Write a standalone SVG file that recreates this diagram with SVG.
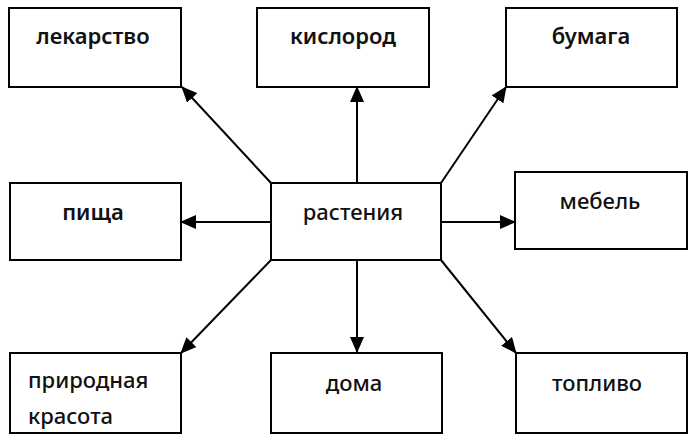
<svg xmlns="http://www.w3.org/2000/svg" width="700" height="441" viewBox="0 0 700 441">
<style>
rect{fill:#fff;stroke:#000;stroke-width:2}
text{font-family:"Noto Sans","Open Sans",sans-serif;font-weight:600;font-size:22px;fill:#111}
.r{font-weight:500}
.c{text-anchor:middle}
line{stroke:#000;stroke-width:2}
</style>
<defs>
<marker id="ah" markerUnits="userSpaceOnUse" markerWidth="16" markerHeight="14" viewBox="0 0 16 14" refX="15" refY="7" orient="auto">
<path d="M0,0 L16,7 L0,14 Z" fill="#000"/>
</marker>
</defs>
<rect width="700" height="441" style="stroke:none"/>
<g id="connectors">
<line x1="271" y1="183" x2="182" y2="87" marker-end="url(#ah)"/>
<line x1="357" y1="183" x2="357" y2="87" marker-end="url(#ah)"/>
<line x1="441" y1="183" x2="506" y2="87" marker-end="url(#ah)"/>
<line x1="271" y1="222" x2="181" y2="222" marker-end="url(#ah)"/>
<line x1="441" y1="222" x2="515" y2="222" marker-end="url(#ah)"/>
<line x1="271" y1="260" x2="181" y2="353" marker-end="url(#ah)"/>
<line x1="357" y1="260" x2="357" y2="352" marker-end="url(#ah)"/>
<line x1="441" y1="260" x2="516" y2="353" marker-end="url(#ah)"/>
</g>
<g id="center"><rect x="271" y="183" width="170" height="77"/><text class="c r" x="353" y="220">растения</text></g>
<g id="n1"><rect x="9" y="8" width="172" height="79"/><text class="c" x="93" y="44">лекарство</text></g>
<g id="n2"><rect x="257" y="8" width="172" height="79"/><text class="c" x="343" y="44">кислород</text></g>
<g id="n3"><rect x="506" y="8" width="171" height="79"/><text class="c" x="591" y="44">бумага</text></g>
<g id="n4"><rect x="10" y="183" width="171" height="77"/><text class="c" x="93" y="220">пища</text></g>
<g id="n5"><rect x="515" y="172" width="172" height="77"/><text class="c r" x="600" y="209">мебель</text></g>
<g id="n6"><rect x="10" y="353" width="171" height="80"/><text class="r" x="28" y="388">природная</text><text class="r" x="28" y="424">красота</text></g>
<g id="n7"><rect x="271" y="353" width="171" height="80"/><text class="c r" x="354" y="391">дома</text></g>
<g id="n8"><rect x="516" y="353" width="171" height="80"/><text class="c r" x="597" y="391">топливо</text></g>
</svg>
